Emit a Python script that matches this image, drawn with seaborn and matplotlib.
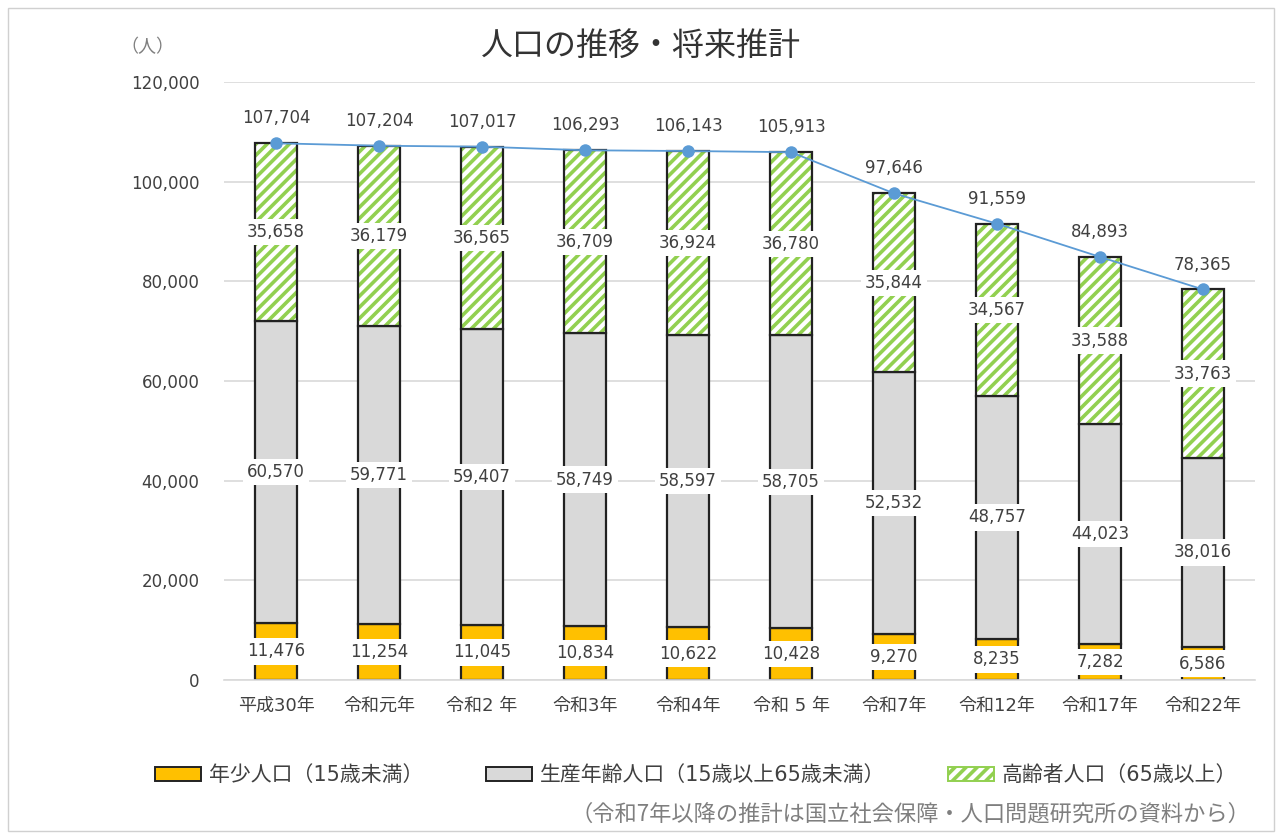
import numpy as np
import pandas as pd
import matplotlib
matplotlib.use("Agg")
import matplotlib.pyplot as plt
from matplotlib.patches import Patch, Rectangle
import seaborn as sns

years = ["平成30年", "令和元年", "令和2 年", "令和3年", "令和4年", "令和 5 年",
         "令和7年", "令和12年", "令和17年", "令和22年"]
young = [11476, 11254, 11045, 10834, 10622, 10428, 9270, 8235, 7282, 6586]
working = [60570, 59771, 59407, 58749, 58597, 58705, 52532, 48757, 44023, 38016]
elderly = [35658, 36179, 36565, 36709, 36924, 36780, 35844, 34567, 33588, 33763]
totals = [107704, 107204, 107017, 106293, 106143, 105913, 97646, 91559, 84893, 78365]

series_names = ["年少人口（15歳未満）", "生産年齢人口（15歳以上65歳未満）", "高齢者人口（65歳以上）"]

sns.set_theme(style="white")
plt.rcParams["font.family"] = ["DejaVu Sans", "Noto Sans CJK JP"]
plt.rcParams["hatch.linewidth"] = 2.6

YELLOW = "#FFC000"
GRAY = "#D9D9D9"
GREEN = "#92D050"
BLUE = "#5B9BD5"
TXT = "#404040"
CJK = ["Noto Sans CJK JP", "DejaVu Sans"]

df = pd.DataFrame({"year": years, "young": young, "working": working,
                   "elderly": elderly, "total": totals})
df["base_old"] = df["young"] + df["working"]

fig = plt.figure(figsize=(12.82, 8.39), dpi=100)
fig.patch.set_facecolor("white")
fig.add_artist(Rectangle((0.006, 0.01), 0.988, 0.98, transform=fig.transFigure,
                         fill=False, edgecolor="#D0D0D0", linewidth=1))
ax = fig.add_axes([0.1751, 0.1895, 0.8035, 0.7128])

bw = 0.41
sns.barplot(data=df, x="year", y="young", color=YELLOW, width=bw,
            edgecolor="#222222", linewidth=1.6, saturation=1, ax=ax, zorder=2)
sns.barplot(data=df, x="year", y="working", bottom=df["young"], color=GRAY,
            width=bw, edgecolor="#222222", linewidth=1.6, saturation=1, ax=ax, zorder=2)
# hatched fill of the elderly segment, then its black outline on top
sns.barplot(data=df, x="year", y="elderly", bottom=df["base_old"], color="white",
            width=bw, edgecolor=GREEN, hatch="///", linewidth=0, saturation=1,
            ax=ax, zorder=2)
sns.barplot(data=df, x="year", y="elderly", bottom=df["base_old"], color="white",
            fill=False, width=bw, edgecolor="#222222", linewidth=1.6, ax=ax, zorder=3)

x = np.arange(len(years))
sns.lineplot(x=x, y=df["total"], color=BLUE, marker="o", markersize=9,
             markeredgewidth=0, linewidth=1.3, ax=ax, zorder=5)

box = dict(boxstyle="square,pad=0.25", facecolor="white", edgecolor="none")
fs = 12
for i in range(len(years)):
    ax.text(i, young[i] / 2, f"{young[i]:,}", ha="center", va="center",
            fontsize=fs, color=TXT, bbox=box, zorder=6)
    ax.text(i, young[i] + working[i] / 2, f"{working[i]:,}", ha="center",
            va="center", fontsize=fs, color=TXT, bbox=box, zorder=6)
    ax.text(i, young[i] + working[i] + elderly[i] / 2, f"{elderly[i]:,}",
            ha="center", va="center", fontsize=fs, color=TXT, bbox=box, zorder=6)
    ax.text(i, totals[i] + 5000, f"{totals[i]:,}", ha="center", va="center",
            fontsize=fs, color=TXT, zorder=6)

ax.set_ylim(0, 120000)
ax.set_xlim(-0.5, len(years) - 0.5)
ax.set_yticks(np.arange(0, 120001, 20000))
ax.yaxis.set_major_formatter(matplotlib.ticker.FuncFormatter(lambda v, p: f"{int(v):,}"))
ax.grid(axis="y", color="#D9D9D9", linewidth=1.2, zorder=0)
ax.set_axisbelow(True)
for s in ["top", "right", "left"]:
    ax.spines[s].set_visible(False)
ax.spines["bottom"].set_color("#D9D9D9")
ax.spines["bottom"].set_linewidth(1.2)
ax.tick_params(axis="both", length=0, labelsize=12, colors=TXT)
ax.tick_params(axis="y", pad=18)
ax.tick_params(axis="x", pad=12, labelsize=13)
ax.set_xlabel("")
ax.set_ylabel("")

fig.text(0.5, 0.945, "人口の推移・将来推計", ha="center", va="center",
         fontsize=23, color="#333333", family=CJK)
fig.text(0.115, 0.944, "（人）", ha="center", va="center", fontsize=13,
         color="#7F7F7F", family=CJK)

handles = [
    Patch(facecolor=YELLOW, edgecolor="#222222", linewidth=1.4),
    Patch(facecolor=GRAY, edgecolor="#222222", linewidth=1.4),
    Patch(facecolor="white", edgecolor=GREEN, hatch="///", linewidth=1.4),
]
leg = fig.legend(handles, series_names, loc="center", bbox_to_anchor=(0.543, 0.076),
                 ncol=3, frameon=False, fontsize=15, handlelength=2.2,
                 handleheight=0.6, columnspacing=3.0, handletextpad=0.4)
for t in leg.get_texts():
    t.set_color(TXT)

fig.text(0.975, 0.030, "（令和7年以降の推計は国立社会保障・人口問題研究所の資料から）",
         ha="right", va="center", fontsize=16, color="#7F7F7F", family=CJK)

fig.savefig("out.png", dpi=100, facecolor="white")
